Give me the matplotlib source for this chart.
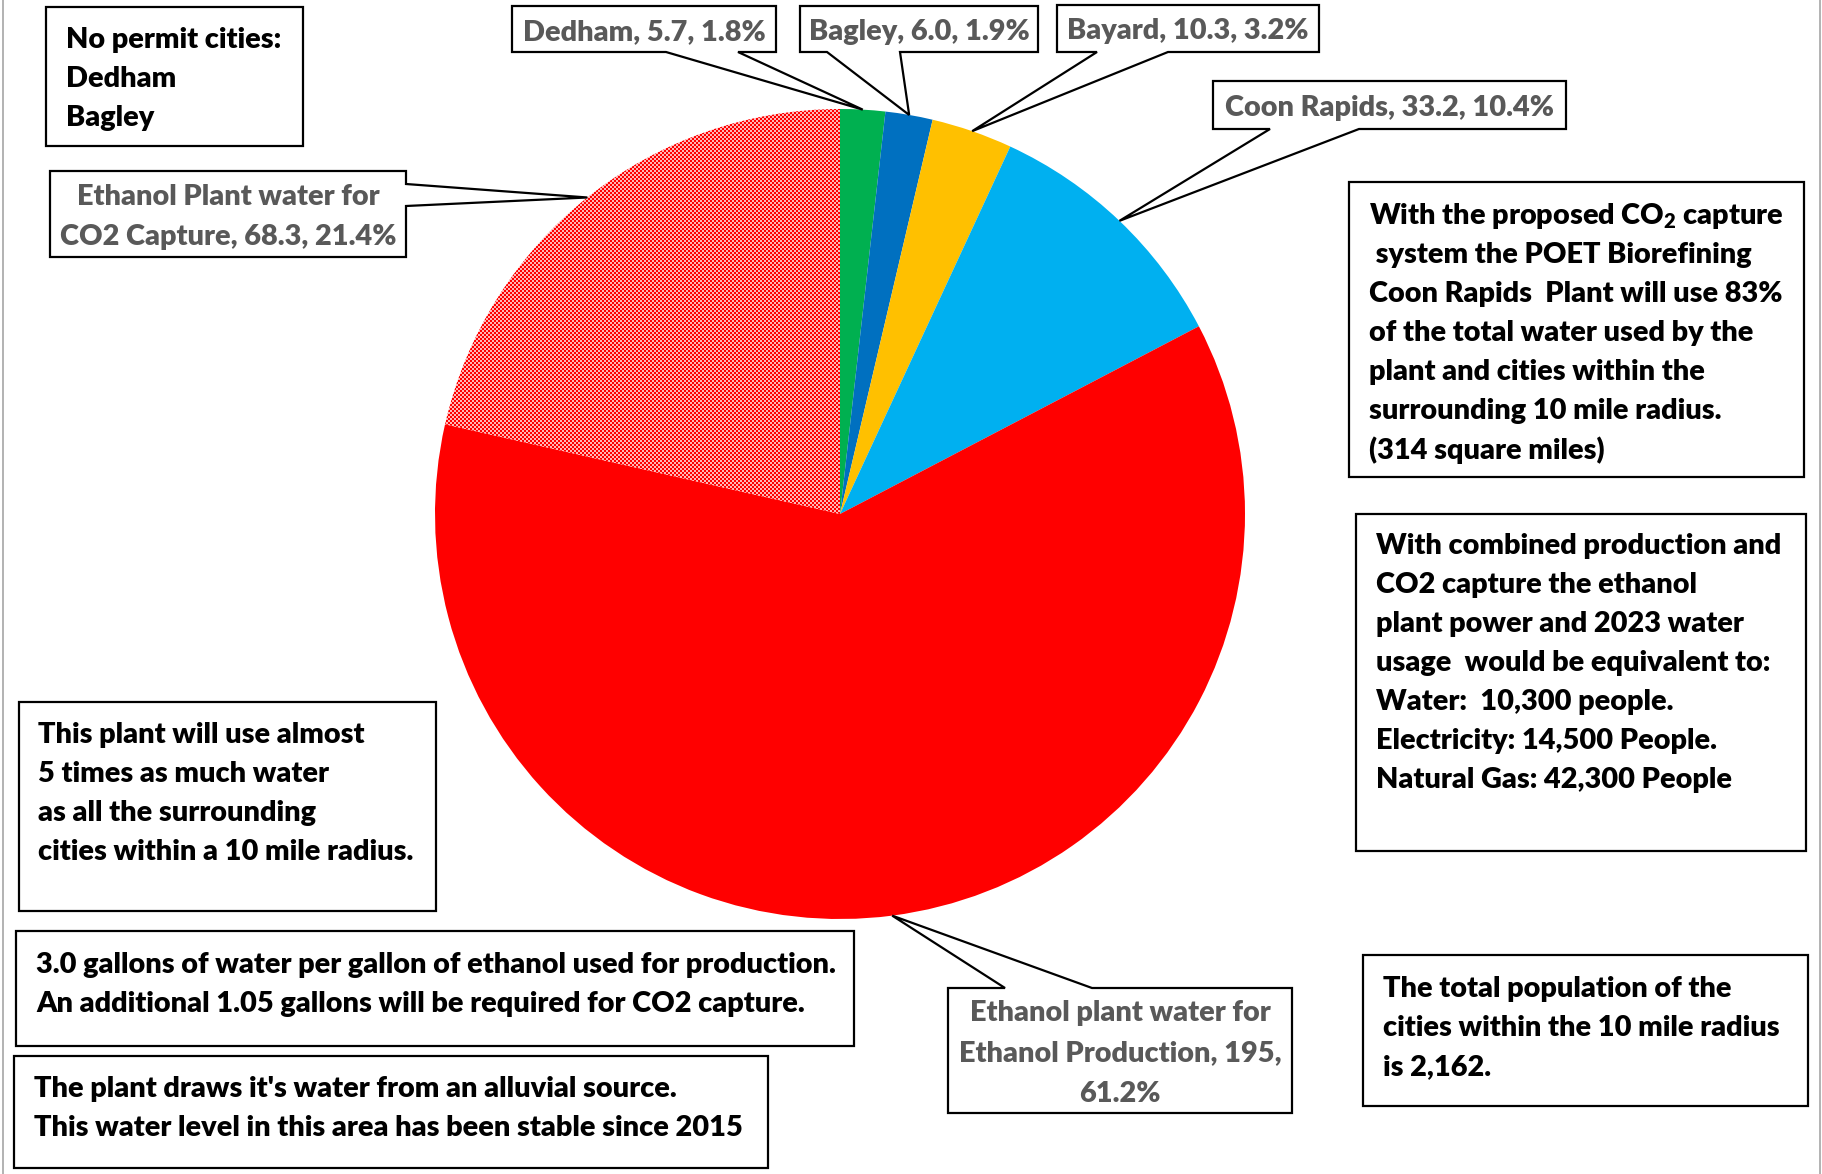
import numpy as np
import matplotlib
matplotlib.use('Agg')
import matplotlib.pyplot as plt
from matplotlib.patches import Polygon
import textwrap

# 水使用量 (百万ガロン/年)
names = ['Dedham', 'Bagley', 'Bayard', 'Coon Rapids',
         'Ethanol plant water for Ethanol Production',
         'Ethanol Plant water for CO2 Capture']
value_text = ['5.7', '6.0', '10.3', '33.2', '195', '68.3']
values = [float(v) for v in value_text]
colors = ['#00B050', '#0070C0', '#FFC000', '#00B0F0', '#FF0000', '#FF0000']

notes = [
    'No permit cities:\nDedham\nBagley',
    'With the proposed CO$_2$ capture\n system the POET Biorefining\n'
    'Coon Rapids  Plant will use 83%\nof the total water used by the\n'
    'plant and cities within the\nsurrounding 10 mile radius.\n(314 square miles)',
    'With combined production and\nCO2 capture the ethanol\nplant power and 2023 water\n'
    'usage  would be equivalent to:\nWater:  10,300 people.\n'
    'Electricity: 14,500 People.\nNatural Gas: 42,300 People',
    'This plant will use almost\n5 times as much water\nas all the surrounding\n'
    'cities within a 10 mile radius.',
    '3.0 gallons of water per gallon of ethanol used for production.\n'
    'An additional 1.05 gallons will be required for CO2 capture.',
    "The plant draws it's water from an alluvial source.\n"
    'This water level in this area has been stable since 2015',
    'The total population of the\ncities within the 10 mile radius\nis 2,162.',
]

W, H = 1822, 1174

def fy(y):
    # 画像の上からのピクセル位置 → 軸座標
    return H - y

plt.rcParams['font.family'] = ['Lato', 'DejaVu Sans']
plt.rcParams['font.weight'] = 'heavy'
plt.rcParams['mathtext.fontset'] = 'custom'
plt.rcParams['mathtext.rm'] = 'Lato:heavy'
plt.rcParams['mathtext.it'] = 'Lato:heavy'
plt.rcParams['mathtext.bf'] = 'Lato:heavy'

fig = plt.figure(figsize=(W / 100, H / 100), dpi=100)
ax = fig.add_axes([0, 0, 1, 1])

cx, cy, r = 840, 514, 405
wedges, _ = ax.pie(values, colors=colors, startangle=90, counterclock=False,
                   center=(cx, fy(cy)), radius=r, frame=True,
                   wedgeprops=dict(linewidth=0))
ax.set_xlim(0, W)
ax.set_ylim(0, H)
ax.set_aspect('auto')
ax.axis('off')

# CO2回収分は赤白の細かい市松模様
ii, jj = np.indices((H, W))
checker = ((ii // 2 + jj // 2) % 2).astype(bool)
tex = np.ones((H, W, 3))
tex[checker] = [1.0, 0.0, 0.0]
tex[~checker] = [1.0, 0.72, 0.72]
wedges[5].set_facecolor('none')
im = ax.imshow(tex, extent=(0, W, 0, H), origin='upper', interpolation='nearest',
               aspect='auto', zorder=wedges[5].get_zorder())
im.set_clip_path(wedges[5])

# 吹き出しの配置 (box x0, y0, x1, y1 / 辺 / 付け根 / 折り返し幅)
callouts = [
    ((512, 6, 776, 52), 'bottom', (666, 738), 40),
    ((800, 6, 1038, 52), 'bottom', (827, 900), 40),
    ((1057, 5, 1319, 52), 'bottom', (1097, 1168), 40),
    ((1213, 81, 1566, 129), 'bottom', (1270, 1359), 40),
    ((948, 988, 1292, 1113), 'top', (1005, 1092), 24),
    ((50, 171, 406, 257), 'right', (184, 206), 24),
]
label_gap = 40
fs = 20.8
dy = 3  # 文字の縦位置の微調整

total = sum(values)
for w, name, vt, v, (box, side, base, wrap) in zip(wedges, names, value_text, values, callouts):
    mid = np.deg2rad((w.theta1 + w.theta2) / 2)
    tip = (cx + r * np.cos(mid), fy(cy) + r * np.sin(mid))
    x0, y0, x1, y1 = box
    b1, b2 = base
    if side == 'bottom':
        pts = [(x0, y0), (x1, y0), (x1, y1), (b2, y1), None, (b1, y1), (x0, y1)]
    elif side == 'top':
        pts = [(x0, y0), (b1, y0), None, (b2, y0), (x1, y0), (x1, y1), (x0, y1)]
    else:
        pts = [(x0, y0), (x1, y0), (x1, b1), None, (x1, b2), (x1, y1), (x0, y1)]
    verts = [tip if p is None else (p[0], fy(p[1])) for p in pts]
    ax.add_patch(Polygon(verts, closed=True, facecolor='white', edgecolor='black',
                         linewidth=1.6, joinstyle='miter', zorder=5))
    label = textwrap.fill(f'{name}, {vt}, {v / total * 100:.1f}%', width=wrap)
    lines = label.split('\n')
    ymid = (y0 + y1) / 2 + dy
    for k, line in enumerate(lines):
        yy = ymid + (k - (len(lines) - 1) / 2) * label_gap
        ax.text((x0 + x1) / 2, fy(yy), line, ha='center', va='center',
                fontsize=fs, color='#595959', zorder=6)

# 説明ボックス (x0, y0, x1, y1, 文字左端, 1行目の中心)
note_boxes = [
    (46, 7, 303, 146, 66, 37),
    (1349, 182, 1804, 477, 1369, 213),
    (1356, 514, 1806, 851, 1376, 543),
    (19, 702, 436, 911, 38, 732),
    (16, 931, 854, 1046, 36, 962),
    (14, 1056, 768, 1168, 34, 1086),
    (1363, 955, 1808, 1106, 1383, 986),
]
note_gap = 39
for text, (x0, y0, x1, y1, tx, ty) in zip(notes, note_boxes):
    verts = [(x0, fy(y0)), (x1, fy(y0)), (x1, fy(y1)), (x0, fy(y1))]
    ax.add_patch(Polygon(verts, closed=True, facecolor='white', edgecolor='black',
                         linewidth=1.6, joinstyle='miter', zorder=5))
    for k, line in enumerate(text.split('\n')):
        ax.text(tx, fy(ty + dy + k * note_gap), line, ha='left', va='center',
                fontsize=fs, color='black', zorder=6)

# 左右の枠線
for x in (3, 1820):
    ax.plot([x, x], [0, H], color='#a6a6a6', linewidth=1.2, zorder=4)

fig.savefig('out.png', dpi=100)
